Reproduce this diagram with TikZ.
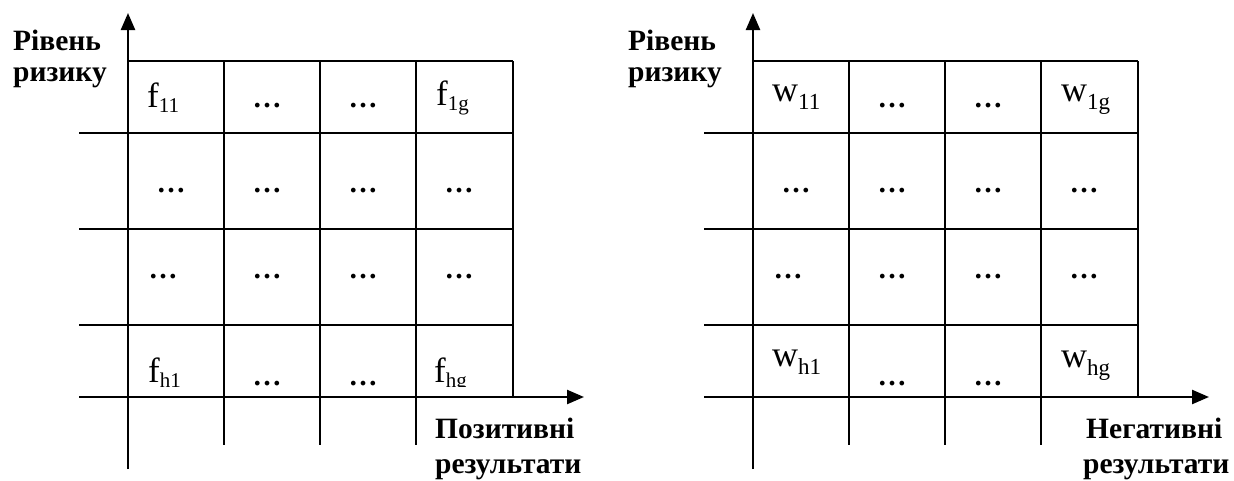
\documentclass[tikz,border=0pt]{standalone}
\usepackage{fontspec}
\setmainfont{Liberation Serif}
\usetikzlibrary{arrows.meta}
\newcommand\fsub[1]{f\raisebox{-5pt}{\fontsize{21}{21}\selectfont #1}}
\newcommand\wsub[1]{{\fontsize{36}{36}\selectfont w}\raisebox{-8pt}{\fontsize{23}{23}\selectfont #1}}
\begin{document}
\begin{tikzpicture}[x=1pt,y=-1pt,
  gridline/.style={line width=2.2pt},
  axisline/.style={line width=2.4pt,-{Triangle[length=17pt,width=14pt]}},
  lbl/.style={font=\fontsize{29.5}{32}\selectfont\bfseries,anchor=base west,inner sep=0},
  cell/.style={font=\fontsize{35}{37}\selectfont,anchor=base west,inner sep=0},
  dotcell/.style={font=\fontsize{29}{30}\selectfont\bfseries,anchor=base,inner sep=0}]
\useasboundingbox (0,0) rectangle (1234,480);

% both panels share the same grid
\foreach \dx in {0,625} {
  \begin{scope}[xshift=\dx pt]
    \draw[gridline] (128,61) -- (513,61);
    \foreach \yy in {133,229,325} \draw[gridline] (79,\yy) -- (513,\yy);
    \foreach \xx in {224,320,416} \draw[gridline] (\xx,61) -- (\xx,445);
    \draw[gridline] (513,61) -- (513,397);
    \draw[axisline] (79,397) -- (584,397);
    \draw[axisline] (128,469) -- (128,13);
    % ellipsis cells
    \node[dotcell] at (267,107) {…};
    \node[dotcell] at (363,107) {…};
    \node[dotcell] at (171,192) {…};
    \node[dotcell] at (267,192) {…};
    \node[dotcell] at (363,192) {…};
    \node[dotcell] at (459,192) {…};
    \node[dotcell] at (163,278) {…};
    \node[dotcell] at (267,278) {…};
    \node[dotcell] at (363,278) {…};
    \node[dotcell] at (459,278) {…};
    \node[dotcell] at (267,385) {…};
    \node[dotcell] at (363,385) {…};
  \end{scope}
}

% axis captions
\node[lbl] (ly1) at (13,50) {Рівень};
\node[lbl] (ly2) at (13,81) {ризику};
\node[lbl] (lx1) at (435,438) {Позитивні};
\node[lbl] (lx2) at (435,473) {результати};
\node[lbl] (ry1) at (628,50) {Рівень};
\node[lbl] (ry2) at (628,81) {ризику};
\node[lbl] (rx1) at (1086,438) {Негативні};
\node[lbl] (rx2) at (1083,473) {результати};

% corner entries, left matrix
\node[cell] (f11) at (147,107) {\fsub{11}};
\node[cell] (f1g) at (436,105) {\fsub{1g}};
\begin{scope}
  \clip (128,325) rectangle (513,386);
  \node[cell] (fh1) at (148,382) {\fsub{h1}};
  \node[cell] (fhg) at (434,382) {\fsub{hg}};
\end{scope}

% corner entries, right matrix
\node[cell] (w11) at (772,101) {\wsub{11}};
\node[cell] (w1g) at (1061,101) {\wsub{1g}};
\node[cell] (wh1) at (772,366) {\wsub{h1}};
\node[cell] (whg) at (1061,367) {\wsub{hg}};
\end{tikzpicture}
\end{document}
